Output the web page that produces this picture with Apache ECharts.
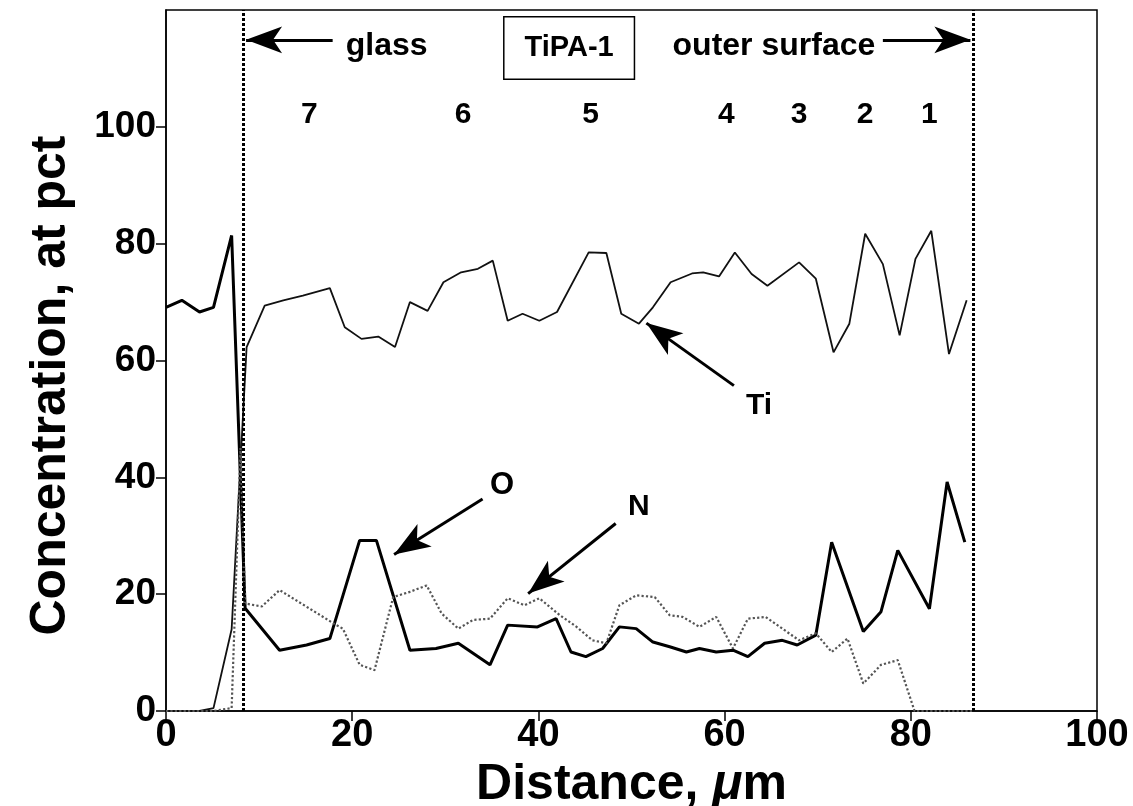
<!DOCTYPE html>
<html>
<head>
<meta charset="utf-8">
<script src="https://cdn.jsdelivr.net/npm/echarts@6/dist/echarts.min.js"></script>
<style>
html,body{margin:0;padding:0;background:#fff}
#chart{width:1133px;height:806px}
</style>
</head>
<body>
<div id="chart"></div>
<script>
// Ti (thin solid line)
var tiX = [0,1.7,3.6,5.1,7.05,8.66,10.6,12.6,14.7,17.6,19.2,21.0,22.8,24.6,26.2,28.1,29.8,31.7,33.5,35.1,36.7,38.3,40.1,42.0,45.4,47.3,48.9,50.8,52.3,54.2,56.5,57.7,59.4,61.1,62.9,64.6,68.0,69.8,71.7,73.4,75.1,77.0,78.8,80.5,82.2,84.1,86.0];
var tiY = [0,0,0,0.5,14,62.3,69.4,70.3,71.1,72.4,65.7,63.7,64.1,62.3,70.0,68.5,73.4,75.1,75.7,77.1,66.8,68.0,66.8,68.3,78.5,78.4,68.0,66.3,69.1,73.4,74.9,75.1,74.4,78.5,74.8,72.8,76.8,74.0,61.4,66.3,81.7,76.5,64.3,77.4,82.2,61.1,70.3];
// O (thick solid line)
var oX = [0,1.7,3.6,5.1,7.05,8.5,12.2,15.1,17.6,20.8,22.6,26.2,29.0,31.4,34.8,36.7,39.9,41.9,43.5,45.1,46.9,48.7,50.5,52.3,54.1,55.9,57.3,59.1,60.9,62.5,64.3,66.2,67.8,69.8,71.5,74.9,76.8,78.6,82.0,83.9,85.8];
var oY = [69.1,70.3,68.3,69.1,81.4,17.6,10.4,11.3,12.4,29.2,29.2,10.4,10.7,11.6,7.9,14.7,14.4,15.8,10.1,9.3,10.7,14.4,14.1,11.8,11.0,10.1,10.7,10.1,10.4,9.3,11.6,12.1,11.3,13.0,28.9,13.6,17.0,27.5,17.5,39.2,28.9];
// N (dotted line)
var nX = [0,1.7,3.6,5.1,7.05,8.0,8.5,10.3,12.2,18.3,19.0,20.8,22.4,24.4,26.2,28.0,29.6,31.4,33.0,34.8,36.7,38.5,40.1,42.3,44.1,45.8,47.3,48.7,50.5,52.5,54.1,55.5,57.3,59.1,60.9,62.5,64.4,66.2,68.0,69.8,71.5,73.2,74.9,76.8,78.6,80.4,86.7];
var nY = [0,0,0,0,0.5,45,18.4,17.9,20.7,14.7,14.1,7.9,7.0,19.5,20.4,21.5,16.7,14.1,15.6,15.8,19.3,18.1,19.3,16.4,14.4,12.1,11.6,18.1,19.8,19.5,16.4,16.1,14.4,16.1,10.7,15.8,16.1,14.1,12.1,13.3,10.1,12.4,4.7,7.9,8.7,0,0];

// tick values
var yTicks = [0,20,40,60,80,100];
// interface lines (glass / outer surface)
var boundX = [8.3, 86.7];
// layer numbers
var layerNames = ['7','6','5','4','3','2','1'];
var layerX = [15.4,31.9,45.6,60.2,68.0,75.1,82.0];

var FONT = "'Liberation Sans', Arial, sans-serif";

function pairs(xs, ys){
	var out = [];
	for(var i=0;i<xs.length;i++){
		out.push([xs[i], ys[i]]);
	}
	return out;
}

var layerPoints = [];
for(var i=0;i<layerNames.length;i++){
	layerPoints.push({coord:[layerX[i],102], value:layerNames[i]});
}

function textPoint(x, y, txt, size){
	return {
		coord:[x,y], value:txt,
		label:{fontSize:size}
	};
}

var chart = echarts.init(document.getElementById('chart'));
var option = {
	animation: false,
	grid: {
		left: 166, right: 36, top: 10, bottom: 95,
		outerBoundsMode: 'none', containLabel: false,
		show: true, borderColor: '#000', borderWidth: 1.5
	},
	xAxis: {
		type: 'value', min: 0, max: 100, interval: 20,
		name: 'Distance, {i|μ}m', nameLocation: 'middle', nameGap: 40,
		nameTextStyle: {
			fontFamily: FONT, fontWeight: 'bold', fontSize: 50, color: '#000',
			rich: {i: {fontFamily: FONT, fontWeight: 'bold', fontStyle: 'italic', fontSize: 50, color: '#000'}}
		},
		axisLine: {lineStyle: {color: '#000', width: 1.5}},
		axisTick: {inside: false, length: 10, lineStyle: {color: '#000', width: 1.5}},
		axisLabel: {fontFamily: FONT, fontWeight: 'bold', fontSize: 38, color: '#000', margin: 6},
		splitLine: {show: false}
	},
	yAxis: {
		type: 'value', min: 0, max: 120, interval: 20,
		name: 'Concentration, at pct', nameLocation: 'middle', nameGap: 90,
		nameTextStyle: {fontFamily: FONT, fontWeight: 'bold', fontSize: 50, color: '#000', padding: [0, 50, 0, 0]},
		axisLine: {lineStyle: {color: '#000', width: 1.5}},
		axisTick: {inside: false, length: 10, customValues: yTicks, lineStyle: {color: '#000', width: 1.5}},
		axisLabel: {
			fontFamily: FONT, fontWeight: 'bold', fontSize: 37, color: '#000', margin: 10,
			customValues: yTicks
		},
		splitLine: {show: false}
	},
	series: [
		{
			name: 'Ti', type: 'line', data: pairs(tiX, tiY),
			symbol: 'none', lineStyle: {color: '#111', width: 1.8}
		},
		{
			name: 'O', type: 'line', data: pairs(oX, oY),
			symbol: 'none', lineStyle: {color: '#000', width: 3}
		},
		{
			name: 'N', type: 'line', data: pairs(nX, nY),
			symbol: 'none', lineStyle: {color: '#555', width: 2.2, type: 'dotted'}
		},
		{
			// interface lines
			type: 'line', data: [], silent: true,
			markLine: {
				silent: true, symbol: 'none', label: {show: false},
				lineStyle: {color: '#000', width: 3, type: [3, 2]},
				data: [
					[{coord:[boundX[0],0]},{coord:[boundX[0],120]}],
					[{coord:[boundX[1],0]},{coord:[boundX[1],120]}]
				]
			}
		},
		{
			// arrows
			type: 'line', data: [], silent: true,
			markLine: {
				silent: true, symbol: ['none','arrow'], symbolSize: [20, 36], label: {show: false},
				lineStyle: {color: '#000', width: 3, type: 'solid'},
				data: [
					[{coord:[17.9,114.9]},{coord:[8.6,114.9]}],
					[{coord:[77.0,114.9]},{coord:[86.4,114.9]}],
					[{coord:[61.0,55.7]},{coord:[51.6,66.4]}],
					[{coord:[34.0,36.3]},{coord:[24.5,26.8]}],
					[{coord:[48.3,32.1]},{coord:[38.9,20.1]}]
				]
			}
		},
		{
			// text labels
			type: 'line', data: [], silent: true,
			markPoint: {
				silent: true, symbol: 'rect', symbolSize: 1,
				itemStyle: {color: 'rgba(0,0,0,0)'},
				label: {
					show: true, position: 'inside', formatter: '{c}',
					fontFamily: FONT, fontWeight: 'bold', fontSize: 30, color: '#000'
				},
				data: layerPoints.concat([
					textPoint(23.7, 113.8, 'glass', 32),
					textPoint(65.3, 113.8, 'outer surface', 32),
					textPoint(63.7, 52.3, 'Ti', 30),
					textPoint(36.1, 38.6, 'O', 31),
					textPoint(50.8, 35.0, 'N', 30),
					{
						coord:[43.3,113.5], value:'TiPA-1',
						label:{
							fontSize: 29, backgroundColor: '#fff',
							borderColor: '#000', borderWidth: 1.5, padding: [17, 20, 15, 20]
						}
					}
				])
			}
		}
	]
};
chart.setOption(option);
</script>
</body>
</html>
